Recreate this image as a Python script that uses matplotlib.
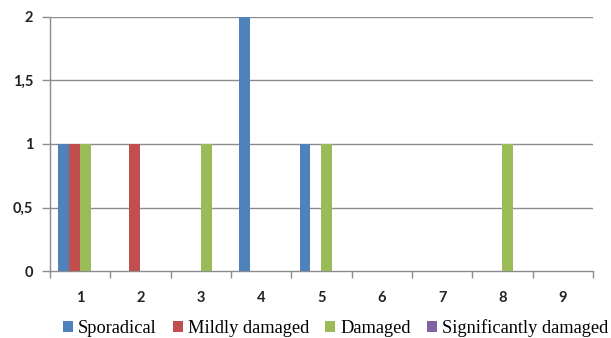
import matplotlib
matplotlib.use("Agg")
import matplotlib.pyplot as plt
import numpy as np
from matplotlib.ticker import FixedLocator, FuncFormatter

categories = ["1", "2", "3", "4", "5", "6", "7", "8", "9"]
series_names = ["Sporadical", "Mildly damaged", "Damaged", "Significantly damaged"]
sporadical = [1, 0, 0, 2, 1, 0, 0, 0, 0]
mildly_damaged = [1, 1, 0, 0, 0, 0, 0, 0, 0]
damaged = [1, 0, 1, 0, 1, 0, 0, 1, 0]
significantly_damaged = [0, 0, 0, 0, 0, 0, 0, 0, 0]
y_ticks = [0, 0.5, 1, 1.5, 2]

colors = ["#4F81BD", "#C0504D", "#9BBB59", "#8064A2"]
grid_color = "#8C8C8C"

fig = plt.figure(figsize=(6.11, 3.38), dpi=100)
ax = fig.add_axes([0.0818, 0.198, 0.8887, 0.752])

x = np.arange(len(categories))
width = 0.182
all_series = [sporadical, mildly_damaged, damaged, significantly_damaged]
for i, (name, vals, col) in enumerate(zip(series_names, all_series, colors)):
    ax.bar(x + (i - 1.5) * width, vals, width, color=col, label=name,
           linewidth=0, zorder=3)

ax.set_xlim(-0.5, len(categories) - 0.5)
ax.set_ylim(0, 2)
ax.set_yticks(y_ticks)
ax.yaxis.set_major_formatter(FuncFormatter(lambda v, p: f"{v:g}".replace(".", ",")))
for v in y_ticks[1:]:
    ax.axhline(v, color=grid_color, linewidth=1, zorder=1)

ax.set_xticks(x)
ax.set_xticklabels(categories)
ax.xaxis.set_minor_locator(FixedLocator(np.arange(-0.5, len(categories), 1)))
ax.tick_params(axis="x", which="major", length=0, pad=14)
ax.tick_params(axis="x", which="minor", length=5, color=grid_color, width=1)
ax.tick_params(axis="y", length=6, color=grid_color, width=1, pad=6)

for lab in ax.get_xticklabels() + ax.get_yticklabels():
    lab.set_fontfamily("Lato")
    lab.set_fontsize(10.5)
    lab.set_fontweight("bold")
    lab.set_color("#222222")

for side in ["top", "right"]:
    ax.spines[side].set_visible(False)
for side in ["left", "bottom"]:
    ax.spines[side].set_color(grid_color)
    ax.spines[side].set_linewidth(1)

fig.legend(loc="center", bbox_to_anchor=(0.549, 0.03), ncol=4, frameon=False,
           prop={"family": "Liberation Serif", "size": 13.2},
           handlelength=0.55, handleheight=0.55, handletextpad=0.25,
           columnspacing=0.9, borderaxespad=0)

fig.savefig("out.png", dpi=100)
